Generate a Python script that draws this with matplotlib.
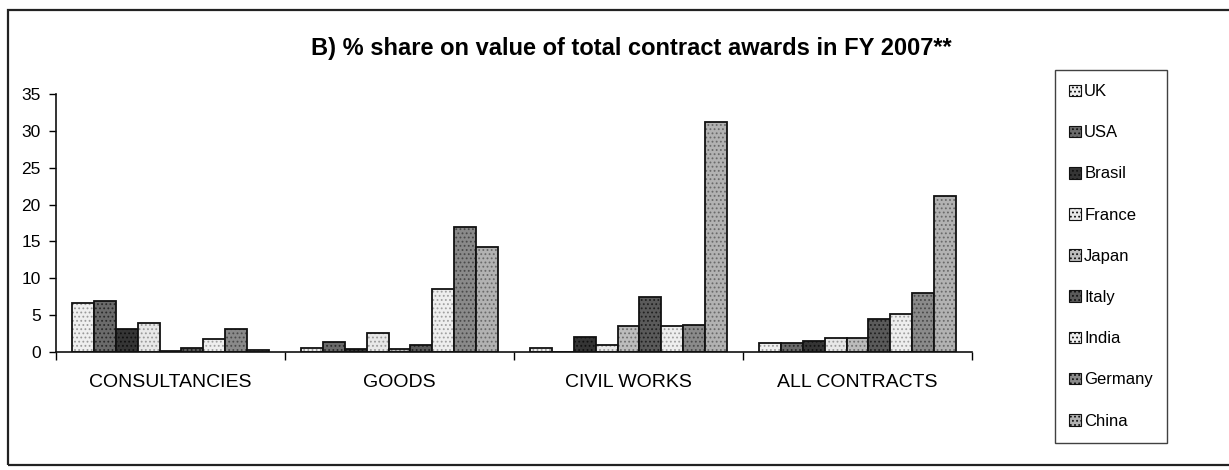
import matplotlib
matplotlib.use("Agg")
import matplotlib.pyplot as plt
from matplotlib.patches import Rectangle, Patch
import numpy as np

plt.rcParams['font.family'] = ['Liberation Sans', 'DejaVu Sans']

# ---- data ----
categories = ["CONSULTANCIES", "GOODS", "CIVIL WORKS", "ALL CONTRACTS"]
countries = ["UK", "USA", "Brasil", "France", "Japan", "Italy", "India", "Germany", "China"]
uk      = [6.6, 0.5, 0.6, 1.2]
usa     = [6.9, 1.4, 0.0, 1.2]
brasil  = [3.1, 0.35, 2.1, 1.5]
france  = [3.9, 2.6, 0.9, 1.9]
japan   = [0.1, 0.35, 3.5, 1.9]
italy   = [0.55, 0.95, 7.5, 4.5]
india   = [1.7, 8.6, 3.5, 5.1]
germany = [3.1, 17.0, 3.6, 8.0]
china   = [0.25, 14.2, 31.2, 21.2]
yticks = [0, 5, 10, 15, 20, 25, 30, 35]
title = "B) % share on value of total contract awards in FY 2007**"

series = [uk, usa, brasil, france, japan, italy, india, germany, china]

# ---- styles ----
faces  = ['#efefef', '#6b6b6b', '#353535', '#e8e8e8', '#bcbcbc', '#5a5a5a', '#eeeeee', '#8a8a8a', '#b2b2b2']
dots   = ['#9a9a9a', '#2a2a2a', '#101010', '#9a9a9a', '#707070', '#202020', '#a0a0a0', '#4a4a4a', '#6a6a6a']

W, H = 1229, 470
fig = plt.figure(figsize=(W / 100, H / 100), dpi=100)
ax = fig.add_axes([56 / W, 1 - 352 / H, (972 - 56) / W, (352 - 94) / H])

plt.rcParams['hatch.linewidth'] = 0.8
n = len(series)
bw = 1.0 / (n + 1.5)
x = np.arange(len(categories))
for i, (vals, fc, dc) in enumerate(zip(series, faces, dots)):
    pos = x + (i - (n - 1) / 2) * bw
    ax.bar(pos, vals, width=bw, color=fc, edgecolor=dc, linewidth=0, hatch='....')
    ax.bar(pos, vals, width=bw, fill=False, edgecolor='#111111', linewidth=1.3)

ax.set_xlim(-0.5, len(categories) - 0.5)
ax.set_ylim(0, 35)
ax.set_yticks(yticks)
ax.set_yticklabels([str(t) for t in yticks], fontsize=12.5)
ax.set_xticks(x)
ax.set_xticklabels(categories, fontsize=14)
ax.set_xticks(np.arange(len(categories) + 1) - 0.5, minor=True)
ax.tick_params(axis='x', which='major', length=0, pad=16)
ax.tick_params(axis='x', which='minor', length=6, width=1, direction='out')
ax.tick_params(axis='y', length=5, width=1, direction='out', pad=6)
for s in ['top', 'right']:
    ax.spines[s].set_visible(False)
for s in ['left', 'bottom']:
    ax.spines[s].set_linewidth(1.2)
    ax.spines[s].set_color('#111111')

# legend
handles = [Patch(facecolor=fc, edgecolor='#111111', hatch='....', linewidth=0.8) for fc in faces]
leg = fig.legend(handles, countries, loc='upper left',
                 bbox_to_anchor=(1055 / W, 1 - 70 / H), bbox_transform=fig.transFigure,
                 fontsize=12, frameon=True, fancybox=False, edgecolor='#111111',
                 handlelength=0.7, handleheight=0.7, handletextpad=0.2,
                 labelspacing=1.57, borderpad=0.85, borderaxespad=0)
leg.get_frame().set_linewidth(1.0)

fig.text(631 / W, 1 - 48 / H, title, ha='center', va='center', fontsize=17, fontweight='bold')

# outer frame
fig.patches.append(Rectangle((8 / W, 1 - 465 / H), 1.2, (465 - 10) / H,
                             transform=fig.transFigure, fill=False,
                             edgecolor='#222222', linewidth=1.6, clip_on=False))

fig.savefig("out.png", dpi=100)
